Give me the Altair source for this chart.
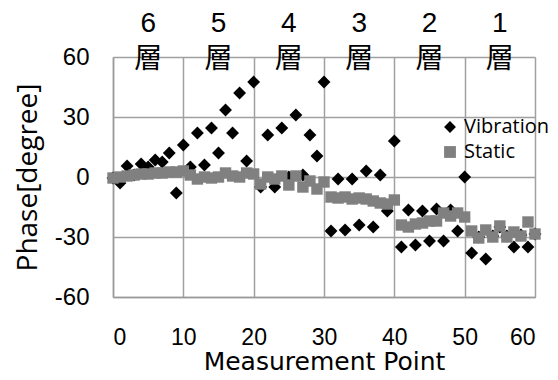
import altair as alt
import pandas as pd

points = [0, 1, 2, 3, 4, 5, 6, 7, 8, 9, 10,
          11, 12, 13, 14, 15, 16, 17, 18, 19, 20,
          21, 22, 23, 24, 25, 26, 27, 28, 29, 30,
          31, 32, 33, 34, 35, 36, 37, 38, 39, 40,
          41, 42, 43, 44, 45, 46, 47, 48, 49, 50,
          51, 52, 53, 54, 55, 56, 57, 58, 59, 60]

vibration = [-0.5, -3, 5.5, 1, 6.5, 5, 8.5, 7.5, 12, -8, 16,
             5, 22, 6, 24.5, 12, 33.5, 22, 42, 8, 47.5,
             -5, 21, -5, 24.5, 0, 31, 1, 21, 10.5, 47.5,
             -27, -1, -26.5, -1, -24, 3, -25, 1, -17, 18,
             -35, -16.5, -34, -17, -32, -16, -32, -16.5, -27, 0,
             -38, -30, -41, -29.5, -25, -29.5, -35, -29, -35, -28.5]

static = [-0.5, 0, 0.5, 1, 1.5, 1.5, 2, 2, 2.5, 2.5, 3,
          1, -1, 0, -0.5, 0, 2, 0.5, 0, 2, 1.5,
          -3.5, 0, -1, 0.5, -4, 0.5, -5, -2, -6, -2.5,
          -10, -10.5, -10, -11, -10.5, -11, -12, -13, -13.5, -11.5,
          -24, -25, -23.5, -23, -22, -22, -18, -19.5, -18, -20,
          -27, -30.5, -26.5, -30, -24.5, -30, -27.5, -29.5, -22.5, -28.5]

layer_x = [5, 15, 25, 35, 45, 55]
layer_num = ["6", "5", "4", "3", "2", "1"]
layer_kanji = ["層", "層", "層", "層", "層", "層"]

series_names = ["Vibration", "Static"]

df = pd.concat([
    pd.DataFrame({"point": points, "phase": vibration, "series": "Vibration"}),
    pd.DataFrame({"point": points, "phase": static, "series": "Static"}),
])
labels = pd.DataFrame({"x": layer_x, "num": layer_num, "kanji": layer_kanji})

xscale = alt.Scale(domain=[0, 60], nice=False)
yscale = alt.Scale(domain=[-60, 60], nice=False)

x_axis = alt.Axis(values=[0, 10, 20, 30, 40, 50, 60], title="Measurement Point",
                  ticks=False, labelPadding=29, titlePadding=0,
                  labelFont="Liberation Sans", labelFontSize=23, labelColor="black",
                  labelExpr="'' + datum.value",
                  titleFont="DejaVu Sans", titleFontSize=25, titleFontWeight="normal",
                  titleColor="black", domainColor="#9a9a9a", domainWidth=1.5,
                  gridColor="#a0a0a0", gridWidth=1.5)
y_axis = alt.Axis(values=[-60, -30, 0, 30, 60], title="Phase[degree]",
                  ticks=False, labelPadding=24, titlePadding=12,
                  labelFont="Liberation Sans", labelFontSize=24, labelColor="black",
                  labelExpr="'' + datum.value",
                  titleFont="Open Sans", titleFontSize=28, titleFontWeight="normal",
                  titleColor="black", domainColor="#9a9a9a", domainWidth=1.5,
                  gridColor="#a0a0a0", gridWidth=1.5)

legend = alt.Legend(title=None, orient="none", legendX=327, legendY=60,
                    labelFont="Open Sans", labelFontSize=20, labelColor="black",
                    symbolSize=140, symbolStrokeWidth=0, rowPadding=5,
                    padding=0, labelOffset=4)
color = alt.Color("series:N", scale=alt.Scale(domain=series_names, range=["black", "#808080"]),
                  legend=legend)
shape = alt.Shape("series:N", scale=alt.Scale(domain=series_names, range=["diamond", "square"]),
                  legend=legend)

base = alt.Chart(df)

vib = base.transform_filter(alt.datum.series == "Vibration").mark_point(
    filled=True, opacity=1, size=165, strokeWidth=0
).encode(
    x=alt.X("point:Q", scale=xscale, axis=x_axis),
    y=alt.Y("phase:Q", scale=yscale, axis=y_axis),
    color=color, shape=shape,
)
stat = base.transform_filter(alt.datum.series == "Static").mark_point(
    filled=True, opacity=1, size=130, strokeWidth=0
).encode(
    x=alt.X("point:Q", scale=xscale, axis=x_axis),
    y=alt.Y("phase:Q", scale=yscale, axis=y_axis),
    color=color, shape=shape,
)

nums = alt.Chart(labels).mark_text(font="Liberation Sans", fontSize=28, color="black",
                                   baseline="middle").encode(
    x=alt.X("x:Q", scale=xscale), y=alt.value(-33), text="num:N")
kanji = alt.Chart(labels).mark_text(font="Noto Sans CJK JP", fontSize=28, color="black",
                                    baseline="middle").encode(
    x=alt.X("x:Q", scale=xscale), y=alt.value(3), text="kanji:N")

chart = alt.layer(vib, stat, nums, kanji).properties(
    width=422, height=240,
    autosize=alt.AutoSizeParams(type="none"),
    padding={"left": 105, "top": 49, "right": 15, "bottom": 75},
).configure_view(stroke="#9a9a9a", strokeWidth=1.5).configure(background="white")

chart.save("out.html", embed_options={"renderer": "svg", "actions": False})
